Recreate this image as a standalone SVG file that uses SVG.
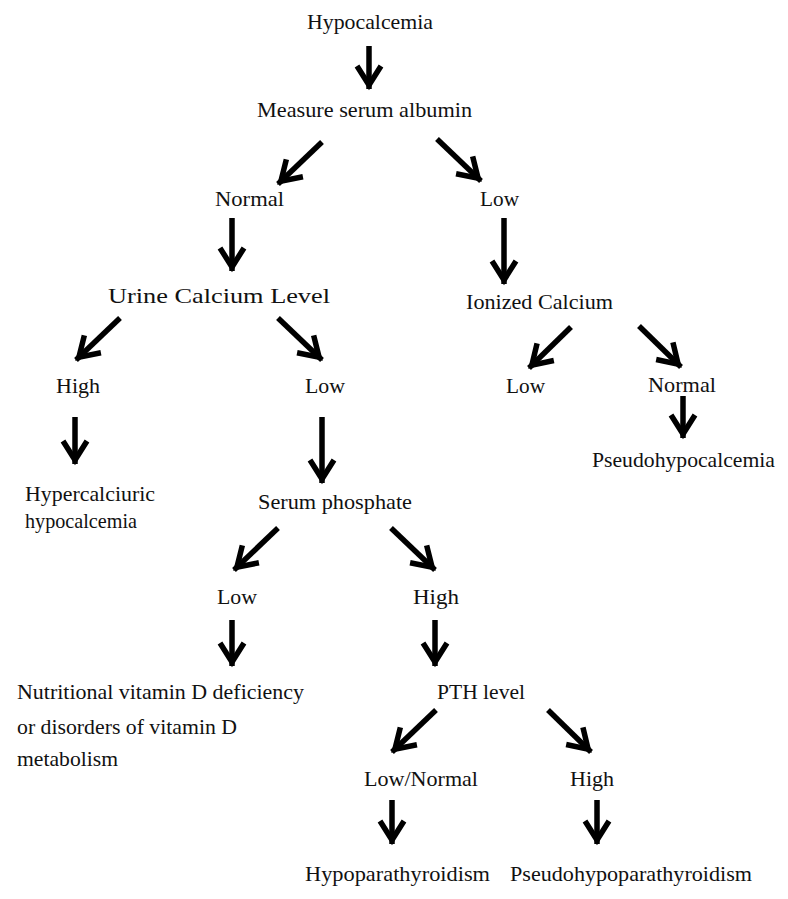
<svg xmlns="http://www.w3.org/2000/svg" width="788" height="899" viewBox="0 0 788 899">
<style>
text{font-family:"Liberation Serif","Times New Roman",serif;font-size:22px;fill:#111}
.c{fill:none;stroke:#000;stroke-width:5.5;stroke-linecap:butt}
</style>
<defs>
<marker id="ah" markerUnits="userSpaceOnUse" markerWidth="40" markerHeight="40" viewBox="-25 -20 40 40" refX="0" refY="0" orient="auto" overflow="visible">
<path d="M-23,-12 L-4,0 L-23,12" fill="none" stroke="#000" stroke-width="5.5" stroke-linejoin="miter"/>
</marker>
</defs>
<rect width="788" height="899" fill="#fff"/>
<g id="connectors">
<path class="c" marker-end="url(#ah)" d="M369,46 L369,89"/>
<path class="c" marker-end="url(#ah)" d="M322,142 L278,184"/>
<path class="c" marker-end="url(#ah)" d="M437,139 L481,181"/>
<path class="c" marker-end="url(#ah)" d="M232,218 L232,271"/>
<path class="c" marker-end="url(#ah)" d="M504,218 L504,284"/>
<path class="c" marker-end="url(#ah)" d="M120,318 L76,360"/>
<path class="c" marker-end="url(#ah)" d="M278,318 L322,360"/>
<path class="c" marker-end="url(#ah)" d="M571,327 L529,368"/>
<path class="c" marker-end="url(#ah)" d="M639,326 L681,367"/>
<path class="c" marker-end="url(#ah)" d="M683,396 L683,438"/>
<path class="c" marker-end="url(#ah)" d="M75,417 L75,464"/>
<path class="c" marker-end="url(#ah)" d="M322,417 L322,483"/>
<path class="c" marker-end="url(#ah)" d="M278,528 L234,570"/>
<path class="c" marker-end="url(#ah)" d="M391,528 L435,570"/>
<path class="c" marker-end="url(#ah)" d="M232,620 L232,666"/>
<path class="c" marker-end="url(#ah)" d="M435,620 L435,666"/>
<path class="c" marker-end="url(#ah)" d="M436,710 L392,752"/>
<path class="c" marker-end="url(#ah)" d="M548,710 L591,752"/>
<path class="c" marker-end="url(#ah)" d="M392,800 L392,844"/>
<path class="c" marker-end="url(#ah)" d="M597,800 L597,844"/>
</g>
<g id="n-hypocalcemia"><text x="307" y="29" textLength="126" lengthAdjust="spacingAndGlyphs">Hypocalcemia</text></g>
<g id="n-albumin"><text x="257" y="117" textLength="215" lengthAdjust="spacingAndGlyphs">Measure serum albumin</text></g>
<g id="n-normal1"><text x="215" y="206" textLength="69" lengthAdjust="spacingAndGlyphs">Normal</text></g>
<g id="n-low1"><text x="480" y="206" textLength="39" lengthAdjust="spacingAndGlyphs">Low</text></g>
<g id="n-urine"><text x="108" y="303" textLength="222" lengthAdjust="spacingAndGlyphs">Urine Calcium Level</text></g>
<g id="n-ionized"><text x="466" y="309" textLength="147" lengthAdjust="spacingAndGlyphs">Ionized Calcium</text></g>
<g id="n-high1"><text x="56" y="393" textLength="44" lengthAdjust="spacingAndGlyphs">High</text></g>
<g id="n-low2"><text x="305" y="393" textLength="40" lengthAdjust="spacingAndGlyphs">Low</text></g>
<g id="n-low3"><text x="506" y="393" textLength="39" lengthAdjust="spacingAndGlyphs">Low</text></g>
<g id="n-normal2"><text x="648" y="392" textLength="68" lengthAdjust="spacingAndGlyphs">Normal</text></g>
<g id="n-pseudohypocalcemia"><text x="592" y="467" textLength="183" lengthAdjust="spacingAndGlyphs">Pseudohypocalcemia</text></g>
<g id="n-hypercalciuric"><text x="25" y="501" textLength="130" lengthAdjust="spacingAndGlyphs">Hypercalciuric</text><text x="25" y="528" textLength="112" lengthAdjust="spacingAndGlyphs">hypocalcemia</text></g>
<g id="n-phosphate"><text x="258" y="509" textLength="154" lengthAdjust="spacingAndGlyphs">Serum phosphate</text></g>
<g id="n-low4"><text x="217" y="604" textLength="40" lengthAdjust="spacingAndGlyphs">Low</text></g>
<g id="n-high2"><text x="413" y="604" textLength="46" lengthAdjust="spacingAndGlyphs">High</text></g>
<g id="n-vitd"><text x="17" y="699" textLength="287" lengthAdjust="spacingAndGlyphs">Nutritional vitamin D deficiency</text><text x="17" y="734" textLength="220" lengthAdjust="spacingAndGlyphs">or disorders of vitamin D</text><text x="17" y="766" textLength="101" lengthAdjust="spacingAndGlyphs">metabolism</text></g>
<g id="n-pth"><text x="437" y="699" textLength="88" lengthAdjust="spacingAndGlyphs">PTH level</text></g>
<g id="n-lownormal"><text x="364" y="786" textLength="114" lengthAdjust="spacingAndGlyphs">Low/Normal</text></g>
<g id="n-high3"><text x="570" y="786" textLength="44" lengthAdjust="spacingAndGlyphs">High</text></g>
<g id="n-hypopara"><text x="305" y="881" textLength="185" lengthAdjust="spacingAndGlyphs">Hypoparathyroidism</text></g>
<g id="n-pseudohypopara"><text x="510" y="881" textLength="242" lengthAdjust="spacingAndGlyphs">Pseudohypoparathyroidism</text></g>
</svg>
